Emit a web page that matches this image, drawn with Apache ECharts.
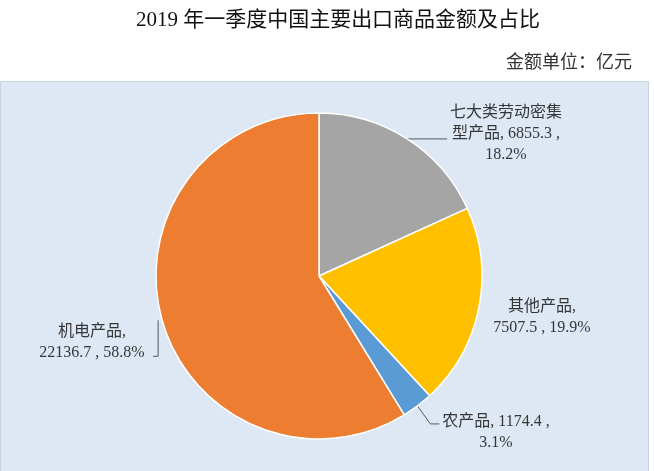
<!DOCTYPE html>
<html>
<head>
<meta charset="utf-8">
<script src="https://cdn.jsdelivr.net/npm/echarts@6/dist/echarts.min.js"></script>
<style>
html,body{margin:0;padding:0;background:#fff;}
#main{width:654px;height:471px;}
</style>
</head>
<body>
<div id="main"></div>
<script>
var categories = ['七大类劳动密集型产品', '其他产品', '农产品', '机电产品'];
var labelNames = ['七大类劳动密集\n型产品', '其他产品', '农产品', '机电产品'];
var values = [6855.3, 7507.5, 1174.4, 22136.7];
var percentLabels = ['18.2%', '19.9%', '3.1%', '58.8%'];
var colors = ['#a5a5a5', '#ffc000', '#5b9bd5', '#ed7d31'];

var labelFormats = [
  function (i) { return labelNames[i] + ', ' + values[i] + ' ,\n' + percentLabels[i]; },
  function (i) { return labelNames[i] + ',\n' + values[i] + ' , ' + percentLabels[i]; },
  function (i) { return labelNames[i] + ', ' + values[i] + ' ,\n' + percentLabels[i]; },
  function (i) { return labelNames[i] + ',\n' + values[i] + ' , ' + percentLabels[i]; }
];
var labelPos = [[506, 134], [542, 317], [496, 432], [92, 342]];

var chart = echarts.init(document.getElementById('main'), null, {renderer: 'canvas'});
var font = '"Liberation Serif", "Noto Sans CJK SC", serif';

chart.setOption({
  backgroundColor: '#ffffff',
  animation: false,
  graphic: [{
    type: 'rect',
    shape: {x: 0.5, y: 81.5, width: 648, height: 392},
    style: {fill: '#dde8f4', stroke: '#c8d4e2', lineWidth: 1},
    z: -10
  }],
  title: [{
    text: '2019 年一季度中国主要出口商品金额及占比',
    left: 333,
    top: 5,
    textAlign: 'center',
    textStyle: {fontFamily: font, fontSize: 21, fontWeight: 'normal', color: '#111111'}
  }, {
    text: '金额单位：亿元',
    right: 17,
    top: 47,
    textStyle: {fontFamily: '"Noto Sans CJK SC", sans-serif', fontSize: 18, fontWeight: 'normal', color: '#333333'}
  }],
  series: [{
    type: 'pie',
    center: [319, 276],
    radius: 163,
    startAngle: 90,
    clockwise: true,
    avoidLabelOverlap: false,
    itemStyle: {borderColor: '#ffffff', borderWidth: 1.5},
    label: {
      show: true,
      position: 'outside',
      fontFamily: font,
      fontSize: 16,
      lineHeight: 21,
      color: '#363636',
      align: 'center',
      formatter: function (p) { return labelFormats[p.dataIndex](p.dataIndex); }
    },
    labelLine: {show: true, length: 10, length2: 10, smooth: false, lineStyle: {color: '#595959', width: 1}},
    labelLayout: function (p) {
      var i = p.dataIndex;
      var a = p.labelLinePoints ? p.labelLinePoints[0] : [0, 0];
      var pts;
      if (i === 0) pts = [[a[0] - 1, a[1]], [a[0] + 40, a[1]]];
      else if (i === 2) pts = [[a[0], a[1]], [a[0] + 13, a[1] + 18], [a[0] + 22, a[1] + 18]];
      else if (i === 3) pts = [[a[0] - 4, a[1]], [a[0] - 4, a[1] + 36], [a[0] - 9, a[1] + 36]];
      else pts = [[a[0], a[1]], [a[0], a[1]]];
      return {
        x: labelPos[i][0],
        y: labelPos[i][1],
        align: 'center',
        verticalAlign: 'middle',
        labelLinePoints: pts
      };
    },
    data: categories.map(function (c, i) {
      return {
        name: c,
        value: values[i],
        itemStyle: {color: colors[i]},
        labelLine: {show: i !== 1}
      };
    })
  }]
});
</script>
</body>
</html>
